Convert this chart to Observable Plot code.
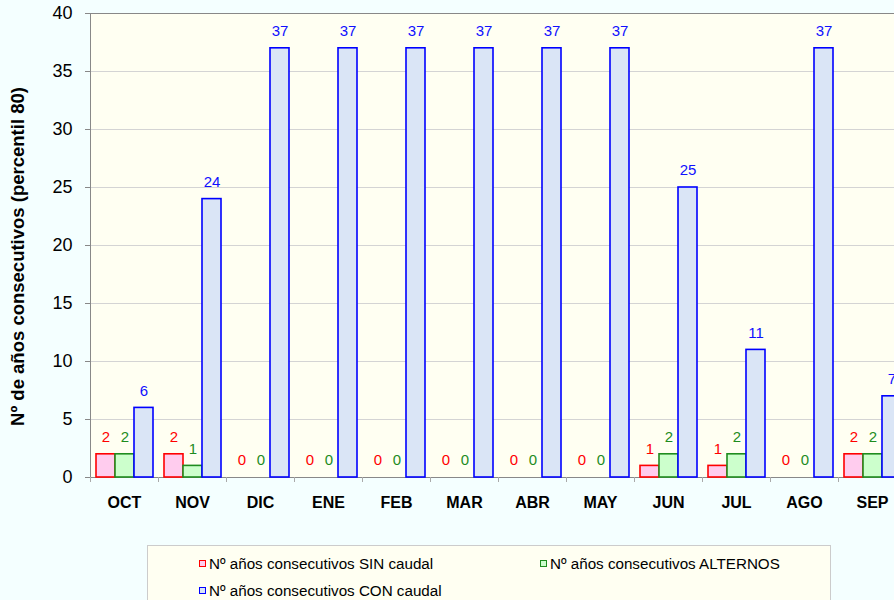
<!DOCTYPE html>
<html><head><meta charset="utf-8">
<script src="https://cdn.jsdelivr.net/npm/d3@7"></script>
<script src="https://cdn.jsdelivr.net/npm/@observablehq/plot@0.6"></script>
<style>
html,body{margin:0;padding:0;background:#F4FFFF;width:894px;height:600px;overflow:hidden;font-family:"Liberation Sans",Arial,sans-serif;}
#chart{position:absolute;left:0;top:0;width:910px;}
#chart svg{max-width:none !important;}
#legend{position:absolute;left:147px;top:545px;width:684px;height:70px;background:#FFFFF2;border:1px solid #CCCCCC;box-sizing:border-box;font-size:15.2px;color:#000;}
.item{position:absolute;display:flex;align-items:center;white-space:nowrap;height:17px;}
.sw{width:5px;height:5px;border:1.5px solid;margin-right:3px;}
</style></head><body>
<div id="chart"></div>
<div id="legend"></div>
<script>
const months = ["OCT","NOV","DIC","ENE","FEB","MAR","ABR","MAY","JUN","JUL","AGO","SEP"];
const sinCaudal = [2,2,0,0,0,0,0,0,1,1,0,2];
const alternos  = [2,1,0,0,0,0,0,0,2,2,0,2];
const conCaudal = [6,24,37,37,37,37,37,37,25,11,37,7];
const seriesNames = ["Nº años consecutivos SIN caudal","Nº años consecutivos ALTERNOS","Nº años consecutivos CON caudal"];
const yTicks = [0,5,10,15,20,25,30,35,40];
const yTitle = "Nº de años consecutivos (percentil 80)";
const strokes = ["#FF0000","#1E8C1E","#0000FF"];
const fills = ["#FFCCEE","#CCFFCC","#DAE5F6"];
const labelColors = ["#FF0000","#1E8C1E","#1010FF"];

const seriesArrays = [sinCaudal, alternos, conCaudal];
const rows = [];
months.forEach((m, i) => {
  seriesArrays.forEach((arr, s) => rows.push({month: m, series: seriesNames[s], s, value: arr[i]}));
});

const W = 910, H = 530, ML = 90, MR = 4, MT = 13, MB = 53;
const bandW = (W - ML - MR) / months.length;
const font = '"Liberation Sans", Arial, sans-serif';

const chart = Plot.plot({
  width: W, height: H,
  marginLeft: ML, marginRight: MR, marginTop: MT, marginBottom: MB,
  style: {background: "transparent", fontFamily: font, overflow: "visible", maxWidth: "none"},
  fx: {domain: months, padding: 0, label: null, axis: null},
  x: {domain: seriesNames, paddingInner: 0, paddingOuter: 0.27, axis: null},
  y: {domain: [0, 40], axis: null},
  marks: [
    Plot.frame({facet: "super", fill: "#FFFFF2", stroke: null}),
    Plot.gridY(yTicks.filter(t => t > 0 && t < 40), {stroke: "#D4D4D4", strokeOpacity: 1}),
    Plot.frame({facet: "super", fill: "none", stroke: "#888888"}),
    Plot.barY(rows.filter(d => d.value > 0), {
      fx: "month", x: "series", y: "value",
      fill: d => fills[d.s], stroke: d => strokes[d.s], strokeWidth: 1.6
    }),
    Plot.text(rows, {
      fx: "month", x: "series", y: "value", text: d => String(d.value),
      dy: -17, fill: d => labelColors[d.s], fontSize: 15, fontFamily: font
    }),
    Plot.axisY({ticks: yTicks, tickSize: 5, stroke: "#888888", fill: "none", label: null}),
    Plot.axisY({ticks: yTicks, tickSize: 0, tickPadding: 18, fontSize: 18, fill: "#000", label: null, fontFamily: font}),
    Plot.axisFx({anchor: "bottom", tickSize: 5, stroke: "#AAAAAA", fill: "none", dx: -bandW / 2, label: null}),
    Plot.axisFx({anchor: "bottom", tickSize: 0, tickPadding: 19, fontSize: 16, fontWeight: "bold", fill: "#000", label: null, fontFamily: font}),
    Plot.text([yTitle], {
      facet: "super", frameAnchor: "left", textAnchor: "middle", rotate: -90, dx: -72, dy: 11,
      text: d => d, fontSize: 18.5, fontWeight: "bold", fill: "#000", fontFamily: font
    })
  ]
});
document.getElementById("chart").appendChild(chart);

const legend = document.getElementById("legend");
const pos = [[51, 9], [392, 9], [51, 36]];
seriesNames.forEach((name, s) => {
  const it = document.createElement("div");
  it.className = "item";
  it.style.left = pos[s][0] + "px";
  it.style.top = pos[s][1] + "px";
  const sw = document.createElement("span");
  sw.className = "sw";
  sw.style.borderColor = strokes[s];
  sw.style.background = fills[s];
  const tx = document.createElement("span");
  tx.textContent = name;
  it.appendChild(sw); it.appendChild(tx);
  legend.appendChild(it);
});
</script>
</body></html>
